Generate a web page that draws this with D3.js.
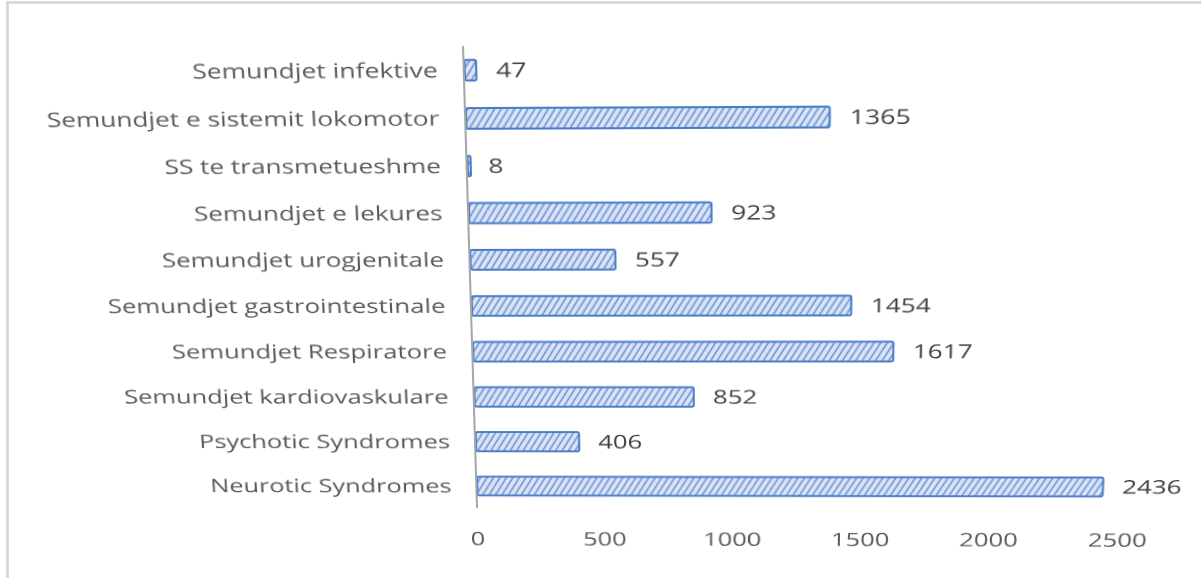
<!DOCTYPE html>
<html>
<head>
<meta charset="utf-8">
<script src="https://cdn.jsdelivr.net/npm/d3@7"></script>
<style>
  html, body { margin: 0; padding: 0; background: #fff; }
  #frame { position: absolute; left: 0; top: 0; width: 1201px; height: 578px; overflow: hidden; background: #fff; }
  #frame svg { position: absolute; left: 0; top: 0; overflow: visible; }
  #chart { transform-origin: 0 0; }
  text { font-family: "Open Sans", "Noto Sans", sans-serif; }
</style>
</head>
<body>
<div id="frame">
  <svg id="border" width="1201" height="578"></svg>
  <svg id="chart" width="1201" height="578"></svg>
</div>
<script>
var categories = [
  'Semundjet infektive',
  'Semundjet e sistemit lokomotor',
  'SS te transmetueshme',
  'Semundjet e lekures',
  'Semundjet urogjenitale',
  'Semundjet gastrointestinale',
  'Semundjet Respiratore',
  'Semundjet kardiovaskulare',
  'Psychotic Syndromes',
  'Neurotic Syndromes'
];
var values = [47, 1365, 8, 923, 557, 1454, 1617, 852, 406, 2436];
var tickValues = [0, 500, 1000, 1500, 2000, 2500];

var data = categories.map(function(c, i) { return { name: c, value: values[i] }; });

var x = d3.scaleLinear()
    .domain([0, 2500])
    .range([470, 1112]);

var y = d3.scaleBand()
    .domain(categories)
    .range([46.5, 509.5])
    .paddingInner(0.57)
    .paddingOuter(0.285);

// frame of the pasted picture (not distorted)
var border = d3.select('#border');
border.append('rect')
    .attr('x', 6).attr('y', 1).attr('width', 3).attr('height', 577)
    .attr('fill', '#d9d9d9');
border.append('rect')
    .attr('x', 6).attr('y', 1).attr('width', 1195).attr('height', 3)
    .attr('fill', '#d9d9d9');

var svg = d3.select('#chart');

var defs = svg.append('defs');
var pat = defs.append('pattern')
    .attr('id', 'hatch')
    .attr('patternUnits', 'userSpaceOnUse')
    .attr('width', 5.5)
    .attr('height', 10)
    .attr('patternTransform', 'rotate(32)');
pat.append('rect')
    .attr('width', 5.5).attr('height', 10)
    .attr('fill', '#dae4f5');
pat.append('line')
    .attr('x1', 1).attr('y1', 0).attr('x2', 1).attr('y2', 10)
    .attr('stroke', '#6d94d6')
    .attr('stroke-width', 1.6);

// bars
svg.selectAll('rect.bar')
    .data(data)
    .enter().append('rect')
    .attr('class', 'bar')
    .attr('x', x(0) + 1)
    .attr('y', function(d) { return y(d.name); })
    .attr('width', function(d) { return Math.max(x(d.value) - x(0) - 1, 3); })
    .attr('height', y.bandwidth())
    .attr('rx', 2)
    .attr('fill', 'url(#hatch)')
    .attr('stroke', '#4a7cc9')
    .attr('stroke-width', 2);

// category axis line
svg.append('line')
    .attr('x1', x(0)).attr('x2', x(0))
    .attr('y1', y.range()[0]).attr('y2', y.range()[1])
    .attr('stroke', '#a6a6a6')
    .attr('stroke-width', 2);

var fontSize = 19.5;

// category labels
var catLabels = svg.selectAll('g.cat')
    .data(data)
    .enter().append('g')
    .attr('class', 'cat');
catLabels.append('text')
    .attr('text-anchor', 'end')
    .attr('dy', '0.35em')
    .attr('font-size', fontSize)
    .attr('fill', '#595959')
    .text(function(d) { return d.name; });

// value labels
var valLabels = svg.selectAll('g.val')
    .data(data)
    .enter().append('g')
    .attr('class', 'val');
valLabels.append('text')
    .attr('text-anchor', 'start')
    .attr('dy', '0.35em')
    .attr('font-size', fontSize)
    .attr('fill', '#404040')
    .text(function(d) { return d.value; });

// value axis tick labels
var tickLabels = svg.selectAll('g.tick')
    .data(tickValues)
    .enter().append('g')
    .attr('class', 'tick');
tickLabels.append('text')
    .attr('text-anchor', 'middle')
    .attr('dy', '0.35em')
    .attr('font-size', fontSize)
    .attr('fill', '#595959')
    .text(function(d) { return d; });

// the source text is set in a wide face; stretch ours to the same width
var longest = catLabels.filter(function(d) { return d.name === 'Semundjet e sistemit lokomotor'; })
    .select('text').node().getComputedTextLength();
var sx = 382 / longest;

catLabels.attr('transform', function(d) {
  return 'translate(' + (x(0) - 25) + ',' + (y(d.name) + y.bandwidth() / 2) + ') scale(' + sx + ',1)';
});
valLabels.attr('transform', function(d) {
  return 'translate(' + (x(d.value) + 19) + ',' + (y(d.name) + y.bandwidth() / 2) + ') scale(' + sx + ',1)';
});
tickLabels.attr('transform', function(d) {
  return 'translate(' + x(d) + ',542) scale(' + sx + ',1)';
});

// the picture was pasted slightly skewed / in perspective:
// map the flat chart onto it with a homography from four reference points
function homography(src, dst) {
  var A = [], b = [];
  for (var i = 0; i < 4; i++) {
    var sx0 = src[i][0], sy0 = src[i][1], dx = dst[i][0], dy = dst[i][1];
    A.push([sx0, sy0, 1, 0, 0, 0, -sx0 * dx, -sy0 * dx]); b.push(dx);
    A.push([0, 0, 0, sx0, sy0, 1, -sx0 * dy, -sy0 * dy]); b.push(dy);
  }
  var n = 8, r, k;
  for (var c = 0; c < n; c++) {
    var p = c;
    for (r = c + 1; r < n; r++) if (Math.abs(A[r][c]) > Math.abs(A[p][c])) p = r;
    var t = A[c]; A[c] = A[p]; A[p] = t;
    t = b[c]; b[c] = b[p]; b[p] = t;
    for (r = c + 1; r < n; r++) {
      var f = A[r][c] / A[c][c];
      for (k = c; k < n; k++) A[r][k] -= f * A[c][k];
      b[r] -= f * b[c];
    }
  }
  var h = new Array(n);
  for (r = n - 1; r >= 0; r--) {
    var s = b[r];
    for (k = r + 1; k < n; k++) s -= A[r][k] * h[k];
    h[r] = s / A[r][r];
  }
  return h;
}

var mid = y.bandwidth() / 2;
var h = homography(
  [[x(0), y.range()[0]], [x(0), y.range()[1]],
   [x(2436), y('Neurotic Syndromes') + mid], [x(1365), y('Semundjet e sistemit lokomotor') + mid]],
  [[463, 46], [477, 508], [1103, 487], [829.7, 117]]
);

d3.select('#chart').style('transform',
  'matrix3d(' + [h[0], h[3], 0, h[6], h[1], h[4], 0, h[7], 0, 0, 1, 0, h[2], h[5], 0, 1].join(',') + ')');
</script>
</body>
</html>
